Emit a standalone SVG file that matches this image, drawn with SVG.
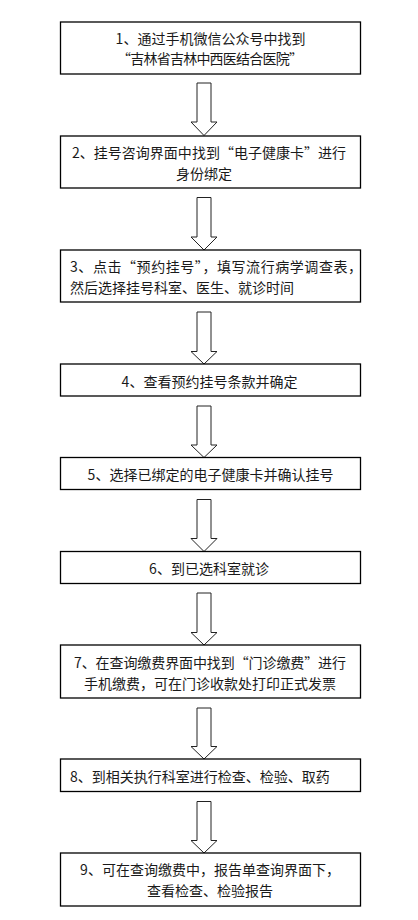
<svg xmlns="http://www.w3.org/2000/svg" width="418" height="920" viewBox="0 0 418 920">
<defs>
<style>
.box{fill:#fff;stroke:#000;stroke-width:1.3}
.arr{fill:#fff;stroke:#222;stroke-width:1}
text{font-family:"Noto Sans CJK SC","Noto Sans",sans-serif;font-size:14px;fill:#1a1a1a;dominant-baseline:central}
.c{text-anchor:middle}
</style>
</defs>
<rect width="418" height="920" fill="#fff"/>
<g id="connectors">
<polygon class="arr" points="197,83 211,83 211,122 217,122 204,135.5 191,122 197,122"/>
<polygon class="arr" points="197,197.5 211,197.5 211,237 217,237 204,250 191,237 197,237"/>
<polygon class="arr" points="197,312 211,312 211,351.5 217,351.5 204,364 191,351.5 197,351.5"/>
<polygon class="arr" points="197,406 211,406 211,445 217,445 204,457.5 191,445 197,445"/>
<polygon class="arr" points="197,499.5 211,499.5 211,538.5 217,538.5 204,551.5 191,538.5 197,538.5"/>
<polygon class="arr" points="197,593 211,593 211,632.5 217,632.5 204,645 191,632.5 197,632.5"/>
<polygon class="arr" points="197,708 211,708 211,746.5 217,746.5 204,759 191,746.5 197,746.5"/>
<polygon class="arr" points="197,801.5 211,801.5 211,840.5 217,840.5 204,853 191,840.5 197,840.5"/>
</g>
<g id="step1">
<rect class="box" x="60.5" y="22" width="300" height="52"/>
<text class="c" x="210.5" y="38">1、通过手机微信公众号中找到</text>
<text class="c" x="210" y="58" textLength="186" lengthAdjust="spacing">“吉林省吉林中西医结合医院”</text>
</g>
<g id="step2">
<rect class="box" x="60.5" y="136" width="300" height="52"/>
<text class="c" x="209" y="151.5" textLength="274" lengthAdjust="spacing">2、挂号咨询界面中找到“电子健康卡”进行</text>
<text class="c" x="204" y="172.5">身份绑定</text>
</g>
<g id="step3">
<rect class="box" x="60.5" y="250" width="300" height="52"/>
<text x="70" y="265.5" textLength="292" lengthAdjust="spacing">3、点击“预约挂号”，填写流行病学调查表，</text>
<text x="70" y="286.5">然后选择挂号科室、医生、就诊时间</text>
</g>
<g id="step4">
<rect class="box" x="60.5" y="364" width="300" height="32"/>
<text class="c" x="209.5" y="380.5">4、查看预约挂号条款并确定</text>
</g>
<g id="step5">
<rect class="box" x="60.5" y="457.5" width="300" height="32"/>
<text class="c" x="210.5" y="474">5、选择已绑定的电子健康卡并确认挂号</text>
</g>
<g id="step6">
<rect class="box" x="60.5" y="551.5" width="300" height="32"/>
<text class="c" x="209" y="568">6、到已选科室就诊</text>
</g>
<g id="step7">
<rect class="box" x="60.5" y="645" width="300" height="53"/>
<text class="c" x="210" y="661.5" textLength="272" lengthAdjust="spacing">7、在查询缴费界面中找到“门诊缴费”进行</text>
<text class="c" x="210" y="682.5">手机缴费，可在门诊收款处打印正式发票</text>
</g>
<g id="step8">
<rect class="box" x="60.5" y="759" width="300" height="32.5"/>
<text x="70" y="775.5">8、到相关执行科室进行检查、检验、取药</text>
</g>
<g id="step9">
<rect class="box" x="60.5" y="853" width="300" height="53"/>
<text class="c" x="210" y="869">9、可在查询缴费中，报告单查询界面下，</text>
<text class="c" x="210" y="890">查看检查、检验报告</text>
</g>
</svg>
